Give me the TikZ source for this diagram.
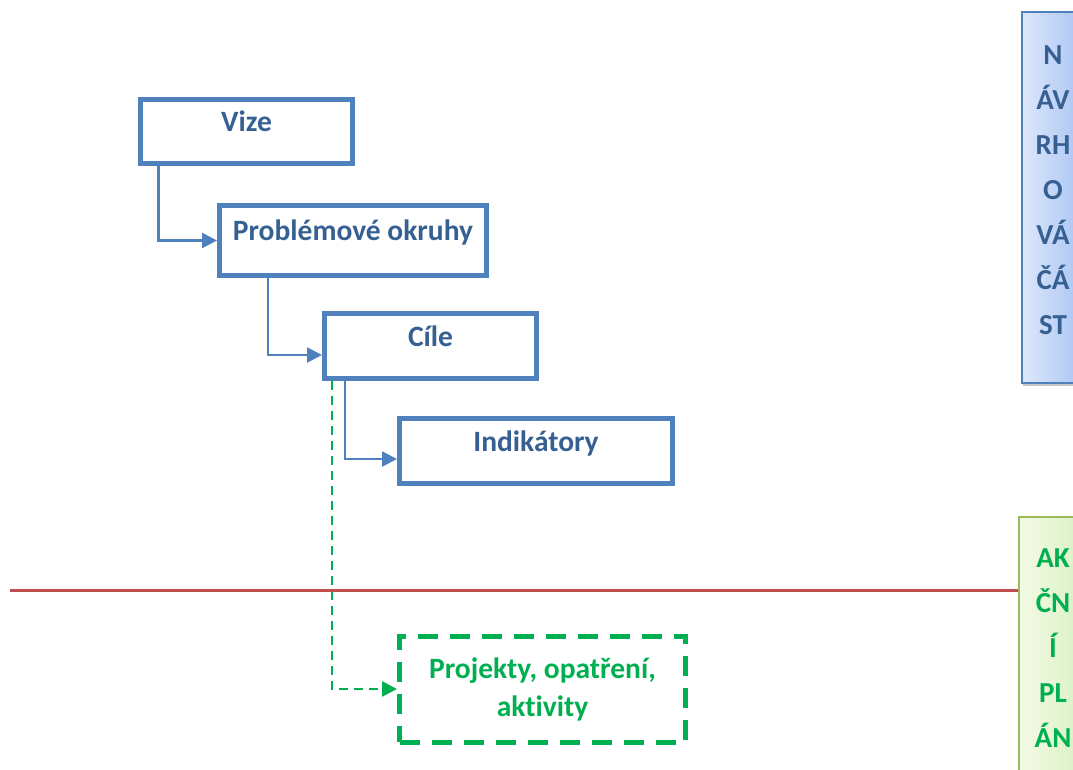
\documentclass[tikz,border=0pt]{standalone}
\usepackage{fontspec}
\setmainfont{Carlito}[Ligatures=NoCommon]
\usetikzlibrary{arrows.meta,shadows}
\definecolor{ramecek}{HTML}{4F81BD}
\definecolor{modratext}{HTML}{366092}
\definecolor{zelena}{HTML}{00B050}
\definecolor{cervena}{HTML}{C0504D}
\definecolor{zelenyramecek}{HTML}{9BBB59}
\definecolor{modravlevo}{HTML}{DDE7FA}
\definecolor{modravpravo}{HTML}{A8C4F3}
\definecolor{zelenavlevo}{HTML}{F4FAE6}
\definecolor{zelenavpravo}{HTML}{D8F1C2}

\begin{document}
\begin{tikzpicture}[x=1pt, y=-1pt,
	krok/.style={draw=ramecek, line width=5pt, fill=white, inner sep=0pt,
		font=\bfseries\fontsize{29.5}{34}\selectfont, text=modratext,
		text height=15pt, text depth=15pt},
	spoj/.style={draw=ramecek, line width=2.5pt, -{Triangle[length=15pt,width=15pt]}},
	cast/.style={line width=1.5pt, inner sep=0pt, align=center,
		font=\bfseries\fontsize{29}{45}\selectfont}]

	\clip (0,0) rectangle (1073,769);

	% kroky navrhove casti
	\node[krok, minimum width=212pt, minimum height=64pt] (vize) at (246.5,131.5) {Vize};
	\node[krok, minimum width=267pt, minimum height=70pt] (okruhy) at (353,240.5) {Problémové okruhy};
	\node[krok, minimum width=212pt, minimum height=65pt] (cile) at (430.5,346) {Cíle};
	\node[krok, minimum width=273pt, minimum height=65pt] (indikatory) at (536,451) {Indikátory};

	% akcni plan
	\node[draw=zelena, line width=5pt, dash pattern=on 20pt off 12pt, fill=white,
		minimum width=286pt, minimum height=106pt, align=center, text=zelena,
		font=\bfseries\fontsize{29.5}{38}\selectfont] (projekty) at (542.5,689)
		{Projekty, opatření,\\aktivity};

	\draw[spoj] ([xshift=20.5pt]vize.south west) |- (okruhy.west);
	\draw[spoj] ([xshift=51pt]okruhy.south west) |- ([yshift=-9pt]cile.west);
	\draw[spoj] ([xshift=23pt]cile.south west) |- ([yshift=-8pt]indikatory.west);
	\draw[zelena, line width=2.5pt, dash pattern=on 9pt off 6pt,
		-{Triangle[length=15pt,width=15pt]}]
		([xshift=10pt]cile.south west) |- (projekty.west);

	% popisky vpravo
	\node[cast, draw=ramecek, left color=modravlevo, right color=modravpravo,
		minimum width=62pt, minimum height=371pt,
		drop shadow={shadow xshift=1pt, shadow yshift=-3pt, fill=black!45}] (navrh) at (1053,197.5) {};
	\node[cast, text=modratext] (navrhtext) at ([yshift=7pt]navrh.center)
		{N\\ÁV\\RH\\O\\VÁ\\ČÁ\\ST};
	\node[cast, draw=zelenyramecek, left color=zelenavlevo, right color=zelenavpravo, text=zelena,
		minimum width=68pt, minimum height=262pt] (akcni) at (1053,648)
		{AK\\ČN\\Í\\PL\\ÁN};

	% hranice
	\coordinate (hranice) at (10,590);
	\draw[cervena, line width=3pt] (hranice) -- (hranice -| akcni.west);
\end{tikzpicture}
\end{document}
